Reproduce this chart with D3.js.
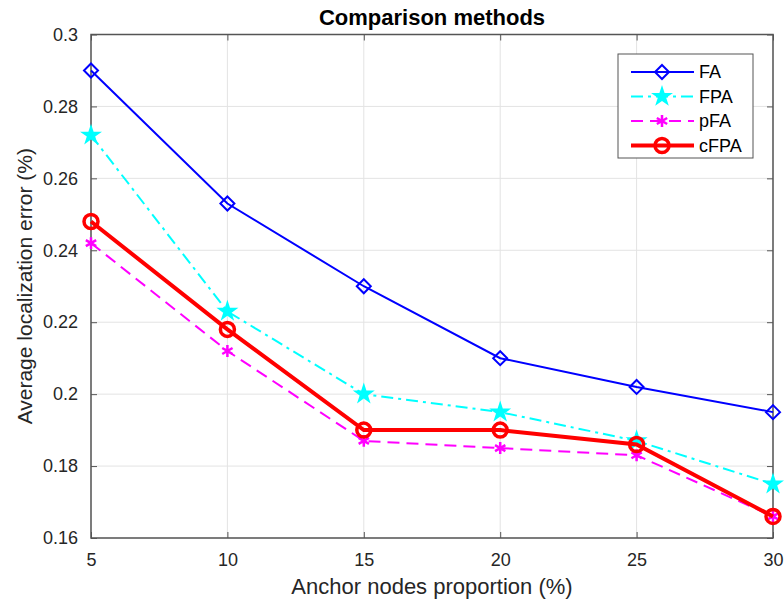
<!DOCTYPE html>
<html>
<head>
<meta charset="utf-8">
<script src="https://cdn.jsdelivr.net/npm/d3@7"></script>
<style>
  body { margin: 0; background: #fff; }
  text { font-family: "Liberation Sans", Arial, sans-serif; }
</style>
</head>
<body>
<svg id="chart" width="784" height="606"></svg>
<script>
const proportions = [5, 10, 15, 20, 25, 30];
const faValues = [0.290, 0.253, 0.230, 0.210, 0.202, 0.195];
const fpaValues = [0.272, 0.223, 0.200, 0.195, 0.187, 0.175];
const pfaValues = [0.242, 0.212, 0.187, 0.185, 0.183, 0.166];
const cfpaValues = [0.248, 0.218, 0.190, 0.190, 0.186, 0.166];
const yTicks = [0.16, 0.18, 0.2, 0.22, 0.24, 0.26, 0.28, 0.3];
const seriesNames = ['FA', 'FPA', 'pFA', 'cFPA'];

const margin = {top: 34.5, right: 11, bottom: 68, left: 91};
const width = 784 - margin.left - margin.right;
const height = 606 - margin.top - margin.bottom;

const svg = d3.select('#chart');
const g = svg.append('g')
  .attr('transform', 'translate(' + margin.left + ',' + margin.top + ')');

const x = d3.scaleLinear().domain([5, 30]).range([0, width]);
const y = d3.scaleLinear().domain([0.16, 0.3]).range([height, 0]);

// grid
g.append('g').selectAll('line').data(proportions).join('line')
  .attr('x1', d => x(d)).attr('x2', d => x(d))
  .attr('y1', 0).attr('y2', height)
  .attr('stroke', '#e3e3e3').attr('stroke-width', 1);
g.append('g').selectAll('line').data(yTicks).join('line')
  .attr('x1', 0).attr('x2', width)
  .attr('y1', d => y(d)).attr('y2', d => y(d))
  .attr('stroke', '#e3e3e3').attr('stroke-width', 1);

// axes (ticks pointing inward)
const axisColor = '#262626';
function styleAxis(sel, showText) {
  sel.select('.domain').remove();
  sel.selectAll('.tick line').attr('stroke', '#555');
  sel.selectAll('.tick text')
    .attr('fill', axisColor)
    .style('font-size', '18px')
    .style('display', showText ? null : 'none');
}
g.append('g').attr('transform', 'translate(0,' + height + ')')
  .call(d3.axisBottom(x).tickValues(proportions).tickSize(-6).tickPadding(15))
  .call(s => styleAxis(s, true));
g.append('g')
  .call(d3.axisTop(x).tickValues(proportions).tickSize(-6))
  .call(s => styleAxis(s, false));
g.append('g')
  .call(d3.axisLeft(y).tickValues(yTicks).tickFormat(d3.format('~g')).tickSize(-6).tickPadding(13))
  .call(s => styleAxis(s, true));
g.append('g').attr('transform', 'translate(' + width + ',0)')
  .call(d3.axisRight(y).tickValues(yTicks).tickSize(-6))
  .call(s => styleAxis(s, false));

// box
g.append('rect').attr('width', width).attr('height', height)
  .attr('fill', 'none').attr('stroke', '#555').attr('stroke-width', 1.5);

// marker drawers
function drawDiamond(sel, color) {
  sel.append('path').attr('d', 'M0,-7L7,0L0,7L-7,0Z')
    .attr('fill', 'none').attr('stroke', color).attr('stroke-width', 2);
}
function drawStar(sel, color) {
  sel.append('path').attr('d', d3.symbol(d3.symbolStar, 150)())
    .attr('fill', color).attr('stroke', 'none');
}
function drawAsterisk(sel, color) {
  sel.append('path').attr('d', d3.symbol(d3.symbolAsterisk, 100)())
    .attr('fill', 'none').attr('stroke', color).attr('stroke-width', 2.5);
}
function drawCircle(sel, color) {
  sel.append('circle').attr('r', 7)
    .attr('fill', 'none').attr('stroke', color).attr('stroke-width', 3.5);
}

const series = [
  {name: seriesNames[0], values: faValues, color: '#0000ff', width: 2, dash: null, marker: drawDiamond},
  {name: seriesNames[1], values: fpaValues, color: '#00ffff', width: 2, dash: '12,5,3,5', marker: drawStar},
  {name: seriesNames[2], values: pfaValues, color: '#ff00ff', width: 2, dash: '12,7', marker: drawAsterisk},
  {name: seriesNames[3], values: cfpaValues, color: '#ff0000', width: 4, dash: null, marker: drawCircle}
];

const line = d3.line().x((d, i) => x(proportions[i])).y(d => y(d));

series.forEach(s => {
  g.append('path').datum(s.values)
    .attr('fill', 'none')
    .attr('stroke', s.color)
    .attr('stroke-width', s.width)
    .attr('stroke-dasharray', s.dash)
    .attr('d', line);
  s.values.forEach((v, i) => {
    const m = g.append('g').attr('transform', 'translate(' + x(proportions[i]) + ',' + y(v) + ')');
    s.marker(m, s.color);
  });
});

// legend
const lx = 618 - margin.left, ly = 54 - margin.top;
const legend = g.append('g').attr('transform', 'translate(' + lx + ',' + ly + ')');
legend.append('rect').attr('width', 135).attr('height', 104)
  .attr('fill', '#fff').attr('stroke', '#555').attr('stroke-width', 1);
series.forEach((s, i) => {
  const ry = 18 + i * 24.5;
  legend.append('line')
    .attr('x1', 13).attr('x2', 76).attr('y1', ry).attr('y2', ry)
    .attr('stroke', s.color).attr('stroke-width', s.width)
    .attr('stroke-dasharray', s.dash);
  const m = legend.append('g').attr('transform', 'translate(44,' + ry + ')');
  s.marker(m, s.color);
  legend.append('text').attr('x', 81).attr('y', ry).attr('dy', '0.36em')
    .attr('fill', '#000').style('font-size', '18px').text(s.name);
});

// title and labels
svg.append('text').attr('x', margin.left + width / 2).attr('y', 25)
  .attr('text-anchor', 'middle').style('font-size', '22px').style('font-weight', 'bold')
  .attr('fill', '#000').text('Comparison methods');
svg.append('text').attr('x', margin.left + width / 2).attr('y', 594)
  .attr('text-anchor', 'middle').style('font-size', '22px')
  .attr('fill', axisColor).text('Anchor nodes proportion (%)');
svg.append('text')
  .attr('transform', 'translate(32,' + (margin.top + height / 2) + ') rotate(-90)')
  .attr('text-anchor', 'middle').style('font-size', '21px')
  .attr('fill', axisColor).text('Average localization error (%)');
</script>
</body>
</html>
